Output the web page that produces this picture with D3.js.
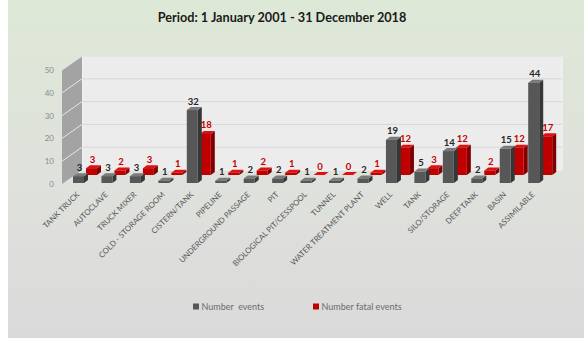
<!DOCTYPE html>
<html>
<head>
<meta charset="utf-8">
<script src="https://cdn.jsdelivr.net/npm/d3@7"></script>
<style>
  body { margin: 0; background: #fff; }
  svg { display: block; font-family: Lato, "Open Sans", sans-serif; }
</style>
</head>
<body>
<div id="chart"></div>
<script>
const categories = ["TANK TRUCK", "AUTOCLAVE", "TRUCK MIXER", "COLD - STORAGE ROOM", "CISTERN/TANK",
  "PIPELINE", "UNDERGROUND PASSAGE", "PIT", "BIOLOGICAL PIT/CESSPOOL", "TUNNEL",
  "WATER TREATMENT PLANT", "WELL", "TANK", "SILO/STORAGE", "DEEP TANK", "BASIN", "ASSIMILABLE"];
const events = [3, 3, 3, 1, 32, 1, 2, 2, 1, 1, 2, 19, 5, 14, 2, 15, 44];
const fatalEvents = [3, 2, 3, 1, 18, 1, 2, 1, 0, 0, 1, 12, 3, 12, 2, 12, 17];
const seriesNames = ["Number  events", "Number fatal events"];
const yTicks = [0, 10, 20, 30, 40, 50];

const W = 584, H = 338;
const svg = d3.select("#chart").append("svg")
    .attr("width", W).attr("height", H);

// background gradient
const grad = svg.append("defs").append("linearGradient")
    .attr("id", "bg").attr("x1", 0).attr("y1", 0).attr("x2", 0).attr("y2", 1);
grad.append("stop").attr("offset", "0%").attr("stop-color", "#dde8d6");
grad.append("stop").attr("offset", "55%").attr("stop-color", "#dfe1dc");
grad.append("stop").attr("offset", "100%").attr("stop-color", "#dadada");
svg.append("rect").attr("x", 8).attr("y", 0).attr("width", W - 8).attr("height", H)
    .attr("fill", "url(#bg)");

svg.append("text")
    .attr("x", 282).attr("y", 22)
    .attr("text-anchor", "middle")
    .attr("font-size", 12.7).attr("font-weight", "bold").attr("fill", "#1a1a1a")
    .text("Period: 1 January 2001 - 31 December 2018");

const x = d3.scaleBand().domain(categories).range([66, 66 + 17 * 28.45]);
const y = d3.scaleLinear().domain([0, 50]).range([184, 70]);

// 3d wall geometry
const depth = {dx: 20, dy: -14};
const wallLeft = 62, wallRight = 562 - depth.dx;

svg.append("rect")
    .attr("x", wallLeft + depth.dx).attr("y", y(50) + depth.dy)
    .attr("width", wallRight - wallLeft).attr("height", y(0) - y(50))
    .attr("fill", "#ececec").attr("stroke", "#f6f6f6").attr("stroke-width", 1);

svg.append("path")
    .attr("d", `M${wallLeft},${y(50)} L${wallLeft + depth.dx},${y(50) + depth.dy} L${wallLeft + depth.dx},${y(0) + depth.dy} L${wallLeft},${y(0)} Z`)
    .attr("fill", "#a3a3a3");

yTicks.filter(t => t > 0).forEach(t => {
  svg.append("line")
      .attr("x1", wallLeft).attr("y1", y(t))
      .attr("x2", wallLeft + depth.dx).attr("y2", y(t) + depth.dy)
      .attr("stroke", "#e6e6e6").attr("stroke-width", 1);
  svg.append("line")
      .attr("x1", wallLeft + depth.dx).attr("y1", y(t) + depth.dy)
      .attr("x2", wallRight + depth.dx).attr("y2", y(t) + depth.dy)
      .attr("stroke", "#d8d8d8").attr("stroke-width", 1);
});

// y axis labels
const yAxis = svg.append("g")
    .attr("transform", "translate(55,0)")
    .call(d3.axisLeft(y).tickValues(yTicks).tickSize(0).tickPadding(1));
yAxis.select(".domain").remove();
yAxis.selectAll("text").attr("font-family", "Lato, sans-serif")
    .attr("font-size", 8).attr("fill", "#8a8a8a");

// bars: fatal series sits behind, so it is drawn first
const bw = 11, side = {dx: 4, dy: -3};
const series = [
  {values: fatalEvents, off: {dx: 20, dy: -9}, front: "#c00000", side: "#7e0000", top: "#e01010", label: "#c00000"},
  {values: events, off: {dx: 7, dy: -1}, front: "#575757", side: "#363636", top: "#7a7a7a", label: "#262626"}
];
const labelLayer = [];

series.forEach(s => {
  const g = svg.append("g");
  const rows = categories.map((c, i) => ({c, v: s.values[i]}));
  const bars = g.selectAll("g.bar").data(rows)
      .enter().append("g").attr("class", "bar");

  const x0 = d => x(d.c) + s.off.dx;
  const yb = s.off.dy + y(0);
  const yt = d => y(d.v) + s.off.dy;

  bars.append("path")
      .attr("d", d => `M${x0(d) + bw},${yb} L${x0(d) + bw + side.dx},${yb + side.dy} L${x0(d) + bw + side.dx},${yt(d) + side.dy} L${x0(d) + bw},${yt(d)} Z`)
      .attr("fill", s.side);
  bars.append("path")
      .attr("d", d => `M${x0(d)},${yt(d)} L${x0(d) + side.dx},${yt(d) + side.dy} L${x0(d) + bw + side.dx},${yt(d) + side.dy} L${x0(d) + bw},${yt(d)} Z`)
      .attr("fill", s.top);
  bars.append("rect")
      .attr("x", x0).attr("y", yt)
      .attr("width", bw).attr("height", d => yb - yt(d))
      .attr("fill", s.front);

  labelLayer.push({s, rows, x0, yt});
});

// value labels on top of everything
labelLayer.forEach(({s, rows, x0, yt}) => {
  svg.append("g").selectAll("text").data(rows).enter().append("text")
      .attr("x", d => x0(d) + 6.5).attr("y", d => yt(d) - 5.5)
      .attr("text-anchor", "middle")
      .attr("font-size", 9.5).attr("font-weight", "bold")
      .attr("fill", s.label)
      .text(d => d.v);
});

// category labels
svg.append("g").selectAll("text")
    .data(categories).enter().append("text")
    .attr("transform", d => `translate(${x(d) + 14},${195}) rotate(-45)`)
    .attr("text-anchor", "end")
    .attr("font-size", 7.8).attr("fill", "#595959")
    .text(d => d);

// legend
const legend = svg.append("g").attr("transform", "translate(193,307)");
const legendColors = ["#575757", "#c00000"];
const legendX = [0, 120];
seriesNames.forEach((n, i) => {
  legend.append("rect").attr("x", legendX[i]).attr("y", -3.5)
      .attr("width", 6).attr("height", 6).attr("fill", legendColors[i]);
  legend.append("text").attr("x", legendX[i] + 8.5).attr("y", 3)
      .attr("font-size", 9).attr("fill", "#6b6b6b")
      .style("white-space", "pre")
      .text(n);
});
</script>
</body>
</html>
